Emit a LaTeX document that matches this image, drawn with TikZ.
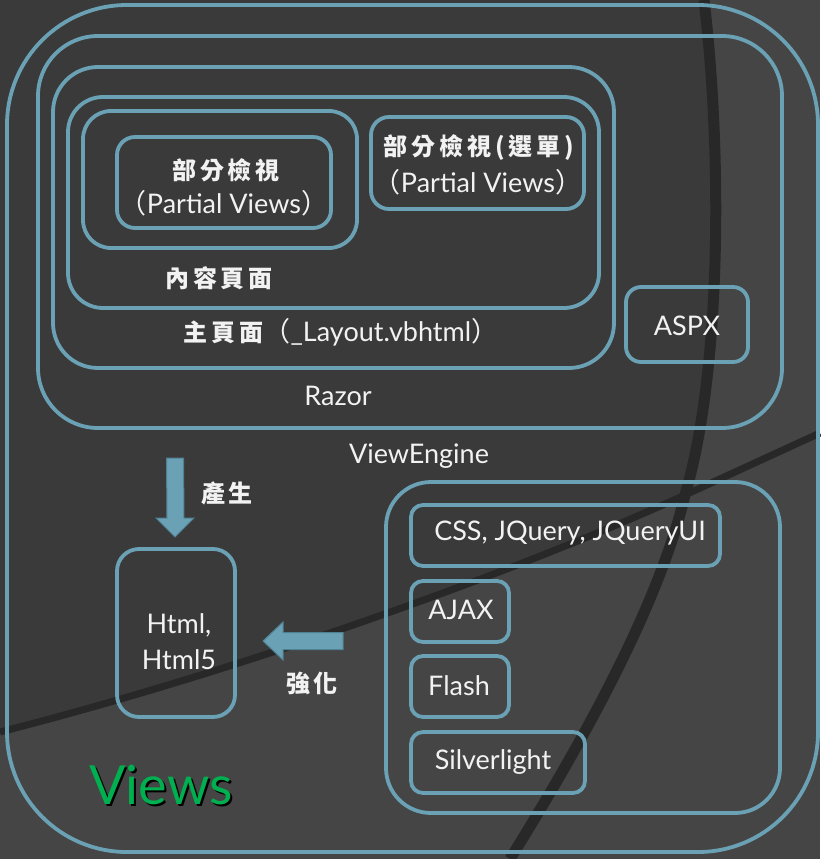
\documentclass[tikz,border=0pt]{standalone}
\usepackage{fontspec}
\setmainfont{Lato}
\newfontfamily\cjk{Noto Sans CJK TC}
\newfontfamily\cjksp{Noto Sans CJK TC}[LetterSpace=16]
\definecolor{bline}{HTML}{6BA1B4}
\definecolor{bgdark}{HTML}{3A3A3A}
\definecolor{bgtex}{HTML}{454545}
\definecolor{shadowc}{HTML}{282828}
\definecolor{txt}{HTML}{F2F2F2}
\definecolor{vgreen}{HTML}{00B050}
\definecolor{arrowedge}{HTML}{4E8193}
\newcommand{\fwl}{{\cjk （}}
\newcommand{\fwr}{{\cjk ）}}
\tikzset{
  box/.style={draw=bline, line width=3.8pt, rounded corners=#1, inner sep=0pt},
  lat/.style={text=txt, font=\fontsize{27}{36}\selectfont, inner sep=0pt},
  cj/.style={text=txt, font=\cjksp\bfseries\fontsize{24}{28}\selectfont, inner sep=0pt},
  blockarrow/.style={fill=bline, draw=arrowedge, line width=1pt, line join=miter},
  bgline/.style={draw=shadowc, line width=#1},
  bgline/.default=8pt
}
\begin{document}
\begin{tikzpicture}[x=1pt,y=-1pt]
\useasboundingbox (0,0) rectangle (820,859);
% background
\fill[bgtex] (0,0) rectangle (820,859);
\fill[bgdark] (0,0) -- (704,0) .. controls (722,150) and (722,370) .. (685,495)
  .. controls (520,570) and (250,668) .. (0,732) -- cycle;
\path[bgline=11pt] (704,0) .. controls (722,150) and (722,370) .. (685,495)
  .. controls (660,600) and (590,730) .. (510,859);
\path[bgline=7pt] (820,433) -- (685,495) .. controls (520,570) and (250,668) .. (0,732);
% boxes
\node[box=120, minimum width=811, minimum height=847] (views) at (412.5,428.5) {};
\node[box=60, minimum width=744, minimum height=392] (engine) at (410,232) {};
\node[box=45, minimum width=561, minimum height=301] (razor) at (333.5,217.5) {};
\node[box=35, minimum width=531, minimum height=211] (layout) at (333.5,202.5) {};
\node[box=28, minimum width=274, minimum height=137] (content) at (220,179.5) {};
\node[box=18, minimum width=214, minimum height=91] (pv1) at (224,182.5) {};
\node[box=18, minimum width=213, minimum height=92] (pv2) at (477.5,163) {};
\node[box=15, minimum width=122, minimum height=75] (aspx) at (687,324.5) {};
\node[box=22, minimum width=118, minimum height=168] (html) at (176,633) {};
\node[box=45, minimum width=394, minimum height=331] (group) at (583,647.5) {};
\node[box=12, minimum width=309, minimum height=61] (css) at (565.5,535.5) {};
\node[box=12, minimum width=98, minimum height=61] (ajax) at (460,611.5) {};
\node[box=12, minimum width=98, minimum height=61] (flash) at (460,686.5) {};
\node[box=12, minimum width=174, minimum height=61] (silver) at (498,762.5) {};
% texts
\node[cj] (pv1a) at (226,170) {部分檢視};
\node[lat] (pv1b) at (224,203) {\fwl Partial Views\fwr};
\node[cj] (pv2a) at (479,148) {部分檢視(選單)};
\node[lat] (pv2b) at (478,182) {\fwl Partial Views\fwr};
\node[cj] (contentlbl) at (219,278) {內容頁面};
\node[lat] (layoutlbl) at (341,332) {{\cjksp\bfseries\fontsize{24}{28}\selectfont 主頁面}\fwl\_Layout.vbhtml\fwr};
\node[lat] (razorlbl) at (338,396) {Razor};
\node[lat] (aspxlbl) at (687,326) {ASPX};
\node[lat] (enginelbl) at (419,456) {ViewEngine};
\node[lat, align=center] (htmllbl) at (179,642) {Html,\\Html5};
\node[lat] (csslbl) at (570,533) {CSS, JQuery, JQueryUI};
\node[lat] (ajaxlbl) at (461,610) {AJAX};
\node[lat] (flashlbl) at (459,686) {Flash};
\node[lat] (silverlbl) at (493,762) {Silverlight};
\node[cj] (genlbl) at (227,493) {產生};
\node[cj] (enhlbl) at (312,683) {強化};
\node[text=vgreen, font=\fontsize{54}{60}\selectfont, inner sep=0pt] (viewslbl) at (161,786)
  {\rlap{\hspace{2pt}\raisebox{-2pt}{\color{black}Views}}Views};
% block arrows
\coordinate (dtop) at (175,458);
\coordinate (dtip) at (175,537);
\draw[blockarrow] ([xshift=-8.5]dtop) -- ([xshift=8.5]dtop) -- (184,518) -- (194,518) -- (dtip)
  -- (156,518) -- (167,518) -- cycle;
\coordinate (lstart) at (343,641);
\coordinate (ltip) at (263,641);
\draw[blockarrow] ([yshift=8.5]lstart) -- (283,632.5) -- (283,622) -- (ltip) -- (283,660)
  -- (283,649.5) -- ([yshift=-8.5]lstart) -- cycle;
\end{tikzpicture}
\end{document}
